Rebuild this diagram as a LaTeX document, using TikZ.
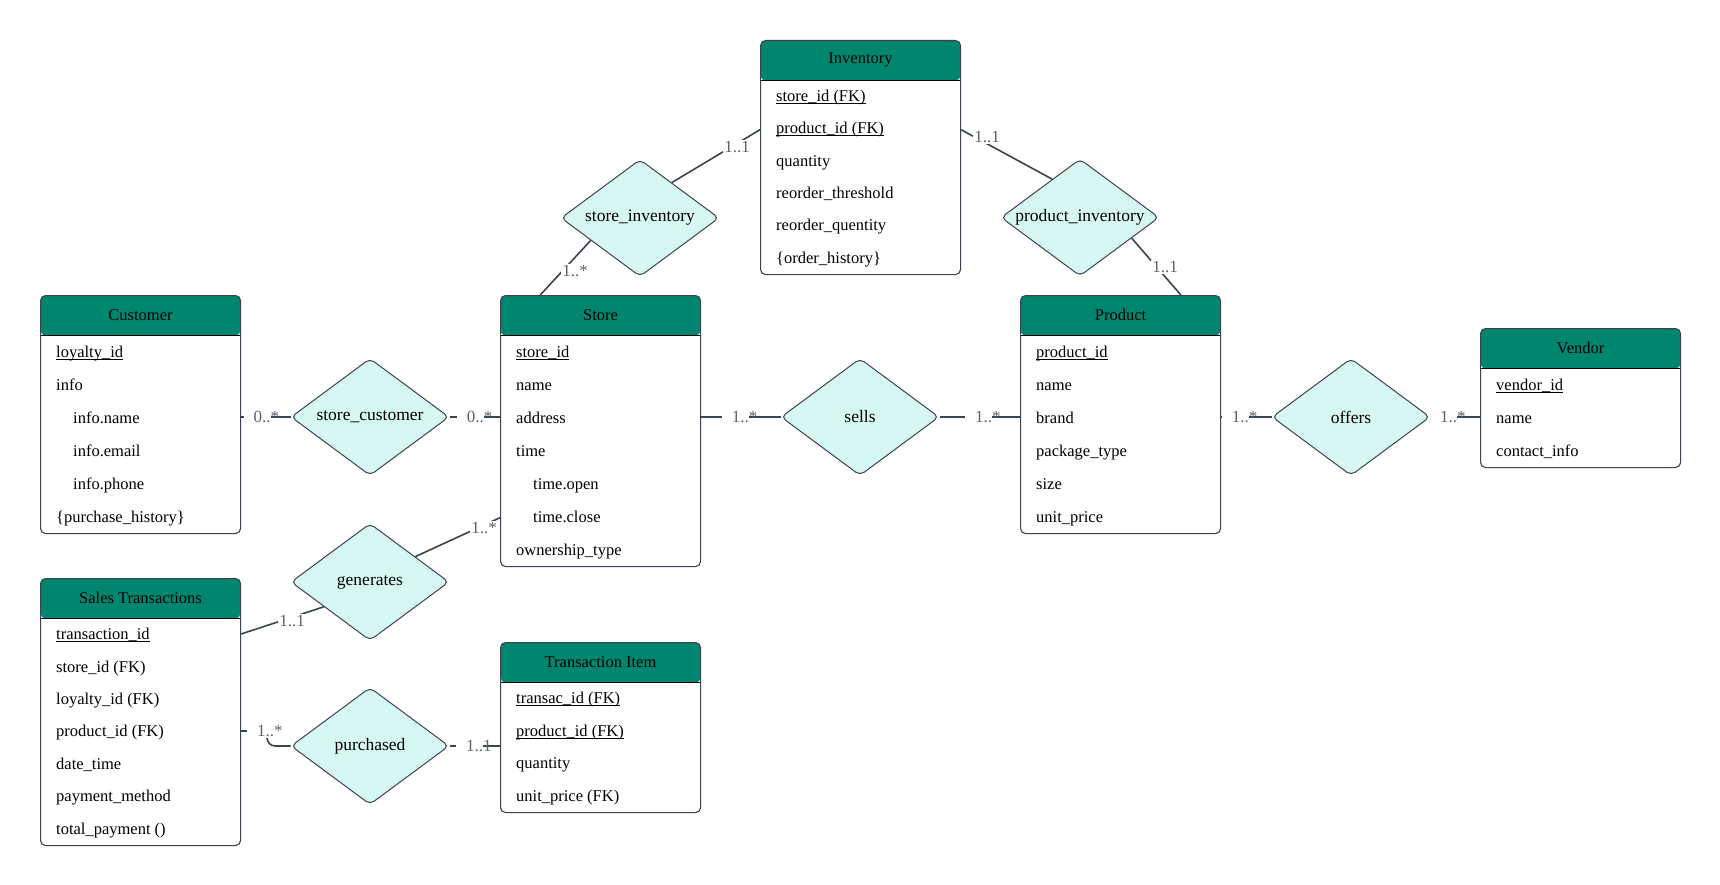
\documentclass[tikz,border=0pt]{standalone}
\usepackage{fontspec}
\setmainfont{Liberation Serif}
\usetikzlibrary{shapes.geometric,calc,backgrounds}
\definecolor{hdrteal}{HTML}{00856F}
\definecolor{relfill}{HTML}{D7F8F2}
\definecolor{edgegray}{HTML}{3C4350}
\definecolor{cardgray}{HTML}{5B6270}
% key attribute: text with a thin rule just under the baseline
\newcommand\keyattr[1]{\setbox0\hbox{#1}\rlap{\rule[-2.4pt]{\wd0}{0.9pt}}\box0}
% multiplicity on a straight connector: padded label whose last glyph overhangs the line
\newcommand\mult[2]{\hspace*{10pt}#1\rlap{#2}}
\begin{document}
\begin{tikzpicture}[x=1pt,y=-1pt,
  entbox/.style={draw=edgegray, line width=1.1pt, fill=white, rounded corners=5pt,
    minimum width=200pt, inner sep=0pt, anchor=north west,
    path picture={
      \fill[hdrteal] (path picture bounding box.north west) rectangle ([yshift=-40pt]path picture bounding box.north east);
      \draw[black, line width=1.4pt] ([yshift=-40pt]path picture bounding box.north west) -- ([yshift=-40pt]path picture bounding box.north east);}},
  title/.style={font=\fontsize{16.5}{19}\selectfont, text=black, inner sep=0pt},
  attr/.style={font=\fontsize{16.5}{19}\selectfont, anchor=base west, inner sep=0pt},
  rel/.style={shape=diamond, draw=edgegray, line width=1pt, fill=relfill, rounded corners=5pt,
    minimum width=158pt, minimum height=117pt, inner sep=0pt, font=\fontsize{17.5}{20}\selectfont},
  conn/.style={draw=edgegray, line width=1.6pt},
  card/.style={font=\fontsize{17}{19}\selectfont, text=cardgray, fill=white, inner sep=1pt},
  hcard/.style={card, anchor=west, inner xsep=0pt},
]
\useasboundingbox (0,0) rectangle (1720,885);

% ---------- entities ----------
\node[entbox, minimum height=238pt] (cust) at (40,295) {};
\node[title] (cust-t) at ([yshift=-20pt]cust.north) {Customer};
\node[attr] (cust-1) at (56,357) {\keyattr{loyalty\_id}};
\node[attr] (cust-2) at (56,390) {info};
\node[attr] (cust-3) at (73,423) {info.name};
\node[attr] (cust-4) at (73,456) {info.email};
\node[attr] (cust-5) at (73,489) {info.phone};
\node[attr] (cust-6) at (56,522) {\{purchase\_history\}};

\node[entbox, minimum height=271pt] (store) at (500,295) {};
\node[title] (store-t) at ([yshift=-20pt]store.north) {Store};
\node[attr] (store-1) at (516,357) {\keyattr{store\_id}};
\node[attr] (store-2) at (516,390) {name};
\node[attr] (store-3) at (516,423) {address};
\node[attr] (store-4) at (516,456) {time};
\node[attr] (store-5) at (533,489) {time.open};
\node[attr] (store-6) at (533,522) {time.close};
\node[attr] (store-7) at (516,555) {ownership\_type};

\node[entbox, minimum height=238pt] (prod) at (1020,295) {};
\node[title] (prod-t) at ([yshift=-20pt]prod.north) {Product};
\node[attr] (prod-1) at (1036,357) {\keyattr{product\_id}};
\node[attr] (prod-2) at (1036,390) {name};
\node[attr] (prod-3) at (1036,423) {brand};
\node[attr] (prod-4) at (1036,456) {package\_type};
\node[attr] (prod-5) at (1036,489) {size};
\node[attr] (prod-6) at (1036,522) {unit\_price};

\node[entbox, minimum height=139pt] (vend) at (1480,328) {};
\node[title] (vend-t) at ([yshift=-20pt]vend.north) {Vendor};
\node[attr] (vend-1) at (1496,390) {\keyattr{vendor\_id}};
\node[attr] (vend-2) at (1496,423) {name};
\node[attr] (vend-3) at (1496,456) {contact\_info};

\node[entbox, minimum height=234pt] (inv) at (760,40) {};
\node[title] (inv-t) at ([yshift=-20pt]inv.north) {Inventory};
\node[attr] (inv-1) at (776,101.7) {\keyattr{store\_id (FK)}};
\node[attr] (inv-2) at (776,134) {\keyattr{product\_id (FK)}};
\node[attr] (inv-3) at (776,166.3) {quantity};
\node[attr] (inv-4) at (776,198.6) {reorder\_threshold};
\node[attr] (inv-5) at (776,230.9) {reorder\_quentity};
\node[attr] (inv-6) at (776,263.2) {\{order\_history\}};

\node[entbox, minimum height=267pt] (sales) at (40,578) {};
\node[title] (sales-t) at ([yshift=-20pt]sales.north) {Sales Transactions};
\node[attr] (sales-1) at (56,639.7) {\keyattr{transaction\_id}};
\node[attr] (sales-2) at (56,672.1) {store\_id (FK)};
\node[attr] (sales-3) at (56,704.5) {loyalty\_id (FK)};
\node[attr] (sales-4) at (56,736.9) {product\_id (FK)};
\node[attr] (sales-5) at (56,769.3) {date\_time};
\node[attr] (sales-6) at (56,801.7) {payment\_method};
\node[attr] (sales-7) at (56,834.1) {total\_payment ()};

\node[entbox, minimum height=170pt] (ti) at (500,642) {};
\node[title] (ti-t) at ([yshift=-20pt]ti.north) {Transaction Item};
\node[attr] (ti-1) at (516,703.75) {\keyattr{transac\_id (FK)}};
\node[attr] (ti-2) at (516,736.25) {\keyattr{product\_id (FK)}};
\node[attr] (ti-3) at (516,768.75) {quantity};
\node[attr] (ti-4) at (516,801.25) {unit\_price (FK)};

% ---------- relationships ----------
\node[rel] (sc)    at (370,417)  {\makebox[0pt]{store\_customer}};
\node[rel] (sells) at (860,417)  {\makebox[0pt]{sells}};
\node[rel] (off)   at (1351,417) {\makebox[0pt]{offers}};
\node[rel] (si)    at (640,218)  {\makebox[0pt]{store\_inventory}};
\node[rel] (pi)    at (1080,217.5) {\makebox[0pt]{product\_inventory}};
\node[rel] (gen)   at (370,582)  {\makebox[0pt]{generates}};
\node[rel] (pur)   at (370,746)  {\makebox[0pt]{purchased}};

% ---------- connectors (behind the shapes) ----------
\begin{pgfonlayer}{background}
\fill[white] (0,0) rectangle (1720,885);
\draw[conn] (cust.east |- sc.west) -- (sc.west);
\draw[conn] (sc.east) -- (sc.east -| store.west);
\draw[conn] (store.east |- sells.west) -- (sells.west);
\draw[conn] (sells.east) -- (sells.east -| prod.west);
\draw[conn] (prod.east |- off.west) -- (off.west);
\draw[conn] (off.east) -- (off.east -| vend.west);
\draw[conn] ($(si.north)!0.4!(si.east)$) -- ([yshift=-89.7pt]inv.north west);
\draw[conn] ($(si.south)!0.62!(si.west)$) -- ($(store.north west)!0.2!(store.north east)$);
\draw[conn] ([yshift=-89.7pt]inv.north east) -- ($(pi.north)!0.35!(pi.west)$);
\draw[conn] ($(pi.south)!0.65!(pi.east)$) -- ($(prod.north west)!0.8!(prod.north east)$);
\draw[conn] ($(gen.north)!0.57!(gen.east)$) -- ([yshift=-222.7pt]store.north west);
\draw[conn] ([yshift=-56pt]sales.north east) -- ($(gen.west)!0.42!(gen.south)$);
\draw[conn, rounded corners=8pt] ([yshift=-153pt]sales.north east) -- ++(26pt,0) |- (pur.west);
\draw[conn] (pur.east) -- (pur.east -| ti.west);
\end{pgfonlayer}

% ---------- cardinalities ----------
\node[hcard] (k1)  at (243.3,417) {\mult{0..}{*}};
\node[hcard] (k2)  at (456.7,417) {\mult{0..}{*}};
\node[hcard] (k3)  at (721.7,417) {\mult{1..}{*}};
\node[hcard] (k4)  at (965,417)   {\mult{1..}{*}};
\node[hcard] (k5)  at (1221.7,417) {\mult{1..}{*}};
\node[hcard] (k6)  at (1430,417)  {\mult{1..}{*}};
\node[hcard] (k13) at (247,731)   {\mult{1..}{*}};
\node[hcard] (k14) at (456,746)   {\mult{1..}{1}};
\node[card] (k7)  at (737,147)   {1..1};
\node[card] (k8)  at (575,271)   {1..*};
\node[card] (k9)  at (987,137)   {1..1};
\node[card] (k10) at (1165,267)  {1..1};
\node[card] (k11) at (484,528)   {1..*};
\node[card] (k12) at (292,621)   {1..1};
\end{tikzpicture}
\end{document}
